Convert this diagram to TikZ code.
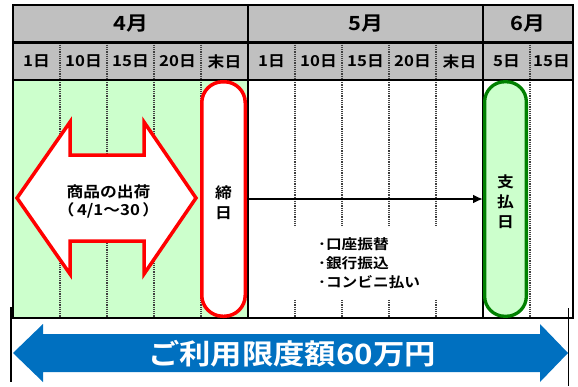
\documentclass[tikz,border=0pt]{standalone}
\usepackage{fontspec}
\newfontfamily\jp{Noto Sans CJK JP Bold}[FakeStretch=1.12]
\usetikzlibrary{arrows.meta}
\definecolor{hdrgray}{HTML}{C0C0C0}
\definecolor{lgreen}{HTML}{CCFFCC}
\definecolor{dgreen}{HTML}{008000}
\definecolor{pred}{HTML}{FF0000}
\definecolor{pblue}{HTML}{0070C0}
\tikzset{
  grid/.style={line width=2.4pt},
  dotline/.style={line width=1.2pt, black!75, dash pattern=on 1.2pt off 1pt},
  monthlbl/.style={font=\jp\fontsize{19.5}{22}\selectfont, inner sep=0pt},
  daylbl/.style={font=\jp\fontsize{15}{18}\selectfont, inner sep=0pt},
  pilltxt/.style={font=\jp\fontsize{15}{20}\selectfont, inner sep=0pt, align=center},
  redpill/.style={draw=pred, line width=3.5pt, fill=white, rounded corners=21pt,
    minimum width=43.5pt, minimum height=234.5pt, inner sep=0pt},
  greenpill/.style={draw=dgreen, line width=3.3pt, fill=lgreen, rounded corners=20pt,
    minimum width=41.7pt, minimum height=234.5pt, inner sep=0pt},
  bodytxt/.style={font=\jp\fontsize{15}{18}\selectfont, inner sep=0pt, align=center},
  paytxt/.style={font=\jp\fontsize{14}{19}\selectfont, fill=white, align=left,
    anchor=north west, minimum width=150pt, minimum height=72pt, inner xsep=28pt, inner ysep=0pt, text width=100pt},
  bluetxt/.style={font=\jp\fontsize{28}{30}\selectfont, text=white, inner sep=0pt},
}
\begin{document}
\begin{tikzpicture}[x=1pt,y=-1pt]
\useasboundingbox (0,0) rectangle (578,386);
% backgrounds
\fill[lgreen] (13,80) rectangle (248,318);
\fill[hdrgray] (13,5) rectangle (573,80);
% dotted column lines
\foreach \x in {60,107,154,201,295,342,389,436,530}
  \draw[dotline] (\x,42.5) -- (\x,318);
% payment methods box
\node[paytxt] (pay) at (290,227) {･口座振替\\･銀行振込\\･コンビニ払い};
% solid grid
\draw[grid] (13,5) rectangle (573,318);
\draw[grid] (13,42.5) -- (573,42.5);
\draw[grid] (13,80) -- (573,80);
\draw[grid] (248,5) -- (248,318);
\draw[grid] (483,5) -- (483,318);
% month labels
\node[monthlbl] (m4) at (130.5,24) {4月};
\node[monthlbl] (m5) at (365.5,24) {5月};
\node[monthlbl] (m6) at (528,24) {6月};
% day labels
\foreach \x/\t [count=\i] in {36.5/1日,83.5/10日,130.5/15日,177.5/20日,224.5/末日,271.5/1日,318.5/10日,365.5/15日,412.5/20日,459.5/末日,506.5/5日,551.5/15日}
  \node[daylbl] (d\i) at (\x,61.5) {\t};
% shipping double arrow
\draw[pred, line width=3.5pt, fill=white, line join=miter]
  (17,198) -- (70,122) -- (70,155) -- (144,155) -- (144,122) -- (196,198)
  -- (144,274) -- (144,241) -- (70,241) -- (70,274) -- cycle;
\node[bodytxt] (ship) at (108.5,201) {商品の出荷\\（\,4/1～30\,）};
% pills
\node[redpill, label={[pilltxt, yshift=-4pt]center:締\\日}] (shime) at (223.5,199) {};
\node[greenpill, label={[pilltxt, yshift=-3pt]center:支\\払\\日}] (shiharai) at (505.5,199) {};
% connector
\draw[line width=2.4pt, -{Latex[length=10pt,width=9pt]}] (shime.east) -- (shiharai.west);
% bracket lines
\draw[line width=1.5pt] (11,307) -- (11,382);
\draw[line width=1.5pt] (568.5,308) -- (568.5,386);
% limit arrow
\fill[pblue] (13,353) -- (43,324) -- (43,334) -- (540,334) -- (540,324) -- (568,353)
  -- (540,382) -- (540,372) -- (43,372) -- (43,382) -- cycle;
\node[bluetxt] (limit) at (292,354) {ご利用限度額60万円};
\end{tikzpicture}
\end{document}
